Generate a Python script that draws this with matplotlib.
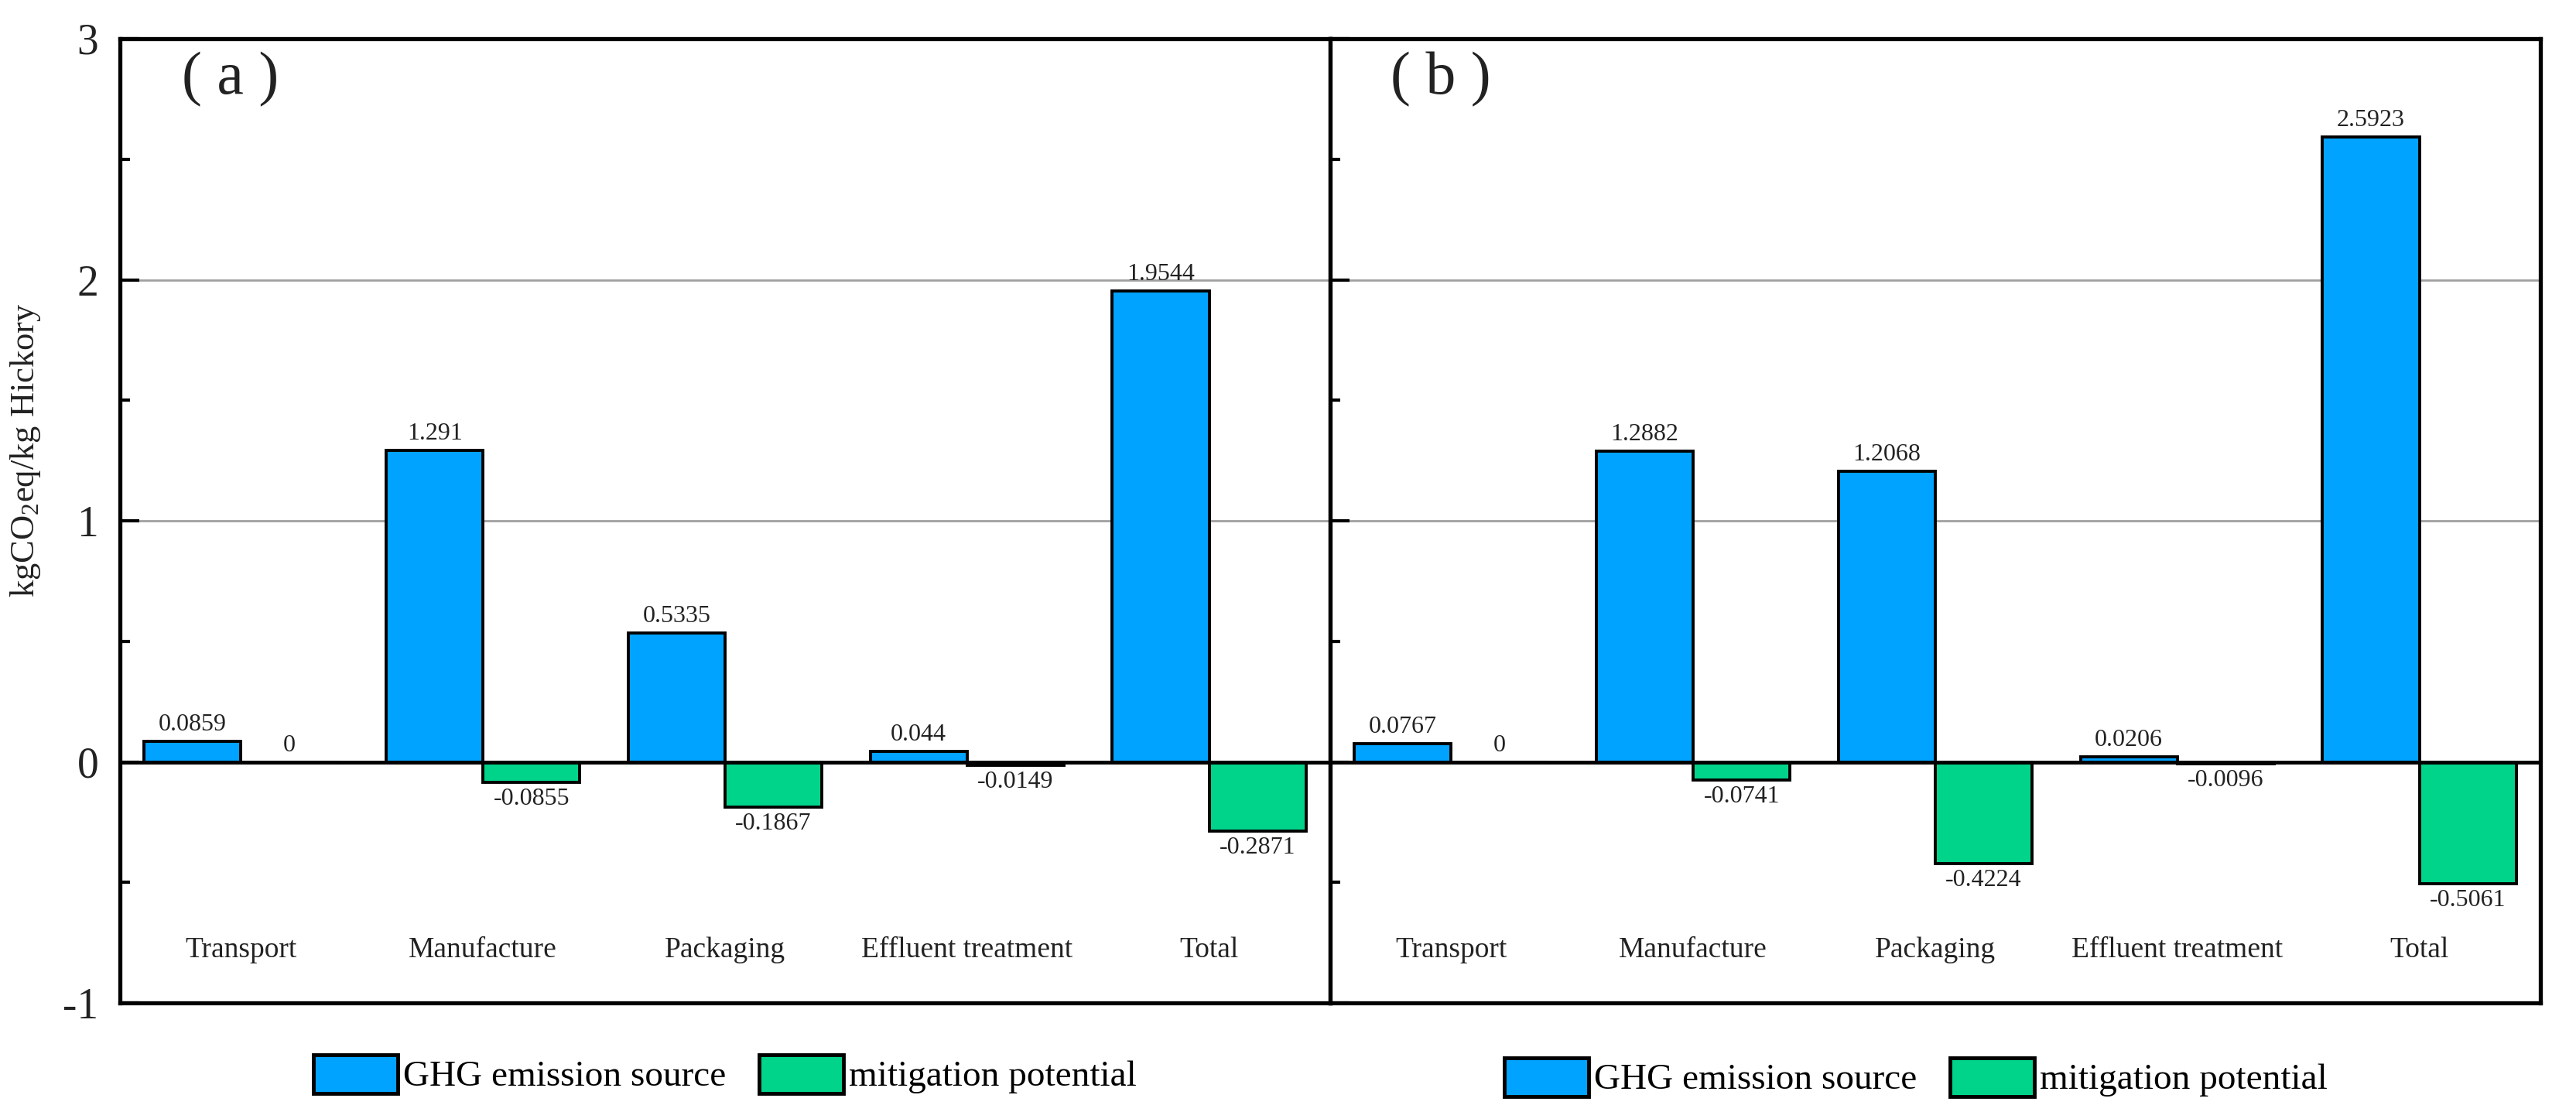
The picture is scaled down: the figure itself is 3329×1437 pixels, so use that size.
import matplotlib
matplotlib.use("Agg")
import matplotlib.pyplot as plt
from matplotlib.patches import Patch
from matplotlib.ticker import MultipleLocator
import numpy as np

categories = ["Transport", "Manufacture", "Packaging", "Effluent treatment", "Total"]
a_emission = [0.0859, 1.291, 0.5335, 0.044, 1.9544]
a_mitigation = [0, -0.0855, -0.1867, -0.0149, -0.2871]
b_emission = [0.0767, 1.2882, 1.2068, 0.0206, 2.5923]
b_mitigation = [0, -0.0741, -0.4224, -0.0096, -0.5061]
panel_labels = ["( a )", "( b )"]
series_names = ["GHG emission source", "mitigation potential"]
yticks = [-1, 0, 1, 2, 3]

BLUE = "#00A3FF"
GREEN = "#00D38A"
TXT = "#222222"

plt.rcParams["font.family"] = ["Liberation Serif", "DejaVu Serif"]
plt.rcParams["mathtext.fontset"] = "custom"
plt.rcParams["mathtext.rm"] = "Liberation Serif"
plt.rcParams["mathtext.it"] = "Liberation Serif:italic"

W, H = 3329, 1437
fig = plt.figure(figsize=(W / 100, H / 100), dpi=100)

left, right, top, bottom = 155, 3283, 50, 1296
mid = (left + right) / 2
axw = (mid - left) / W
axh = (bottom - top) / H
y0 = 1 - bottom / H
ax_a = fig.add_axes([left / W, y0, axw, axh])
ax_b = fig.add_axes([mid / W, y0, axw, axh])

x = np.arange(len(categories))
bw = 0.4

for ax, em, mi, lab in [(ax_a, a_emission, a_mitigation, panel_labels[0]),
                        (ax_b, b_emission, b_mitigation, panel_labels[1])]:
    ax.set_xlim(-0.5, len(categories) - 0.5)
    ax.set_ylim(-1, 3)
    for g in [1, 2]:
        ax.axhline(g, color="#A0A0A0", lw=2.0, zorder=0)
    b1 = ax.bar(x - bw / 2, em, bw, color=BLUE, edgecolor="black", lw=2.8, zorder=2)
    b2 = ax.bar(x + bw / 2, mi, bw, color=GREEN, edgecolor="black", lw=2.8, zorder=2)
    ax.axhline(0, color="black", lw=3.5, zorder=3)
    ax.bar_label(b1, fmt="{:g}", padding=5, fontsize=23, color=TXT)
    ax.bar_label(b2, fmt="{:g}", padding=5, fontsize=23, color=TXT)
    for xi, c in zip(x, categories):
        ax.text(xi, -0.78, c, ha="center", va="center", fontsize=27, color=TXT)
    ax.text(0.0914, 2.83, lab, transform=ax.get_yaxis_transform(), ha="center",
            va="center", fontsize=56, color=TXT)
    ax.set_xticks([])
    ax.yaxis.set_major_locator(MultipleLocator(1))
    ax.yaxis.set_minor_locator(MultipleLocator(0.5))
    ax.tick_params(axis="y", which="major", direction="in", length=18, width=3,
                   right=False, labelsize=40, pad=20, labelcolor=TXT)
    ax.tick_params(axis="y", which="minor", direction="in", length=9, width=3, right=False)
    for s in ax.spines.values():
        s.set_linewidth(3.8)

ax_a.set_yticks(yticks)
ax_a.set_yticklabels([str(t) for t in yticks])
ax_b.set_yticks(yticks)
ax_b.tick_params(axis="y", which="both", labelleft=False)

ax_a.set_ylabel(r"kgCO$_2$eq/kg Hickory", fontsize=32, color=TXT)
ax_a.yaxis.set_label_coords(-0.064, 0.573)

handles = [Patch(facecolor=BLUE, edgecolor="black", lw=3.5),
           Patch(facecolor=GREEN, edgecolor="black", lw=3.5)]
for cx, cy in [(937 / W, 1 - 1388 / H), (2476 / W, 1 - 1392 / H)]:
    fig.legend(handles, series_names, loc="center", bbox_to_anchor=(cx, cy), ncol=2,
               frameon=False, fontsize=34, handlelength=2.3, handleheight=1.25,
               handletextpad=0.15, columnspacing=0.9, borderaxespad=0)

fig.savefig("out.png", dpi=100)
